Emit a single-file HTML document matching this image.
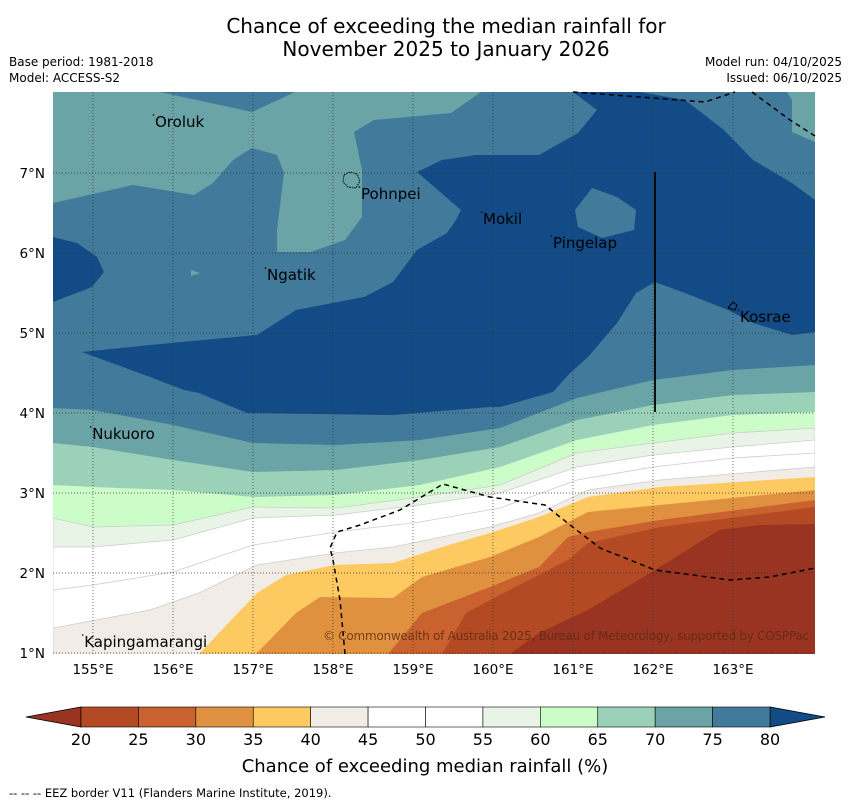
<!DOCTYPE html>
<html><head><meta charset="utf-8">
<style>
body{margin:0;background:#fff;}
svg{display:block;font-family:"DejaVu Sans","Liberation Sans",sans-serif;}
</style></head>
<body>
<svg id="chart" width="850" height="804" viewBox="0 0 850 804" xmlns="http://www.w3.org/2000/svg">
<text x="446" y="33" font-size="20" text-anchor="middle">Chance of exceeding the median rainfall for</text>
<text x="446" y="56" font-size="20" text-anchor="middle">November 2025 to January 2026</text>
<text x="9" y="66" font-size="12">Base period: 1981-2018</text>
<text x="9" y="82" font-size="12">Model: ACCESS-S2</text>
<text x="842" y="66" font-size="12" text-anchor="end">Model run: 04/10/2025</text>
<text x="842" y="82" font-size="12" text-anchor="end">Issued: 06/10/2025</text>
<defs><clipPath id="mapclip"><rect x="53" y="92" width="762" height="562"/></clipPath></defs>
<g id="map" clip-path="url(#mapclip)"></g>
<g id="overlay"></g>
<g id="axes"></g>
<g id="cbar"></g>
<text x="425" y="772" font-size="18" text-anchor="middle">Chance of exceeding median rainfall (%)</text>
<text x="9" y="797" font-size="11.5">--  --  -- EEZ border V11 (Flanders Marine Institute, 2019).</text>
</svg>
<script>
// Colour scale data
const levels = [20,25,30,35,40,45,50,55,60,65,70,75,80];
const binColors = ["#b34a24","#c9622f","#e0913f","#fdc961","#f1ede6","#ffffff","#ffffff","#e8f5e6","#ccfcc8","#9bd1b8","#6aa4a6","#417a9a"];
const underColor = "#993322";
const overColor = "#134b87";
// Axis ticks
const lonTicks = [155,156,157,158,159,160,161,162,163];
const latTicks = [1,2,3,4,5,6,7];
// Place labels
const placeNames = ["Oroluk","Pohnpei","Mokil","Pingelap","Ngatik","Kosrae","Nukuoro","Kapingamarangi"];
const placeLon = [155.775,158.35,159.875,160.75,157.175,163.0875,154.99,154.89];
const placeLat = [7.575,6.675,6.3625,6.0625,5.6625,5.1375,3.675,1.075];

const NS="http://www.w3.org/2000/svg";
const lonX = v => 93 + (v-155)*80;
const latY = v => 653 - (v-1)*80;
function mk(tag, attrs, parent){const e=document.createElementNS(NS,tag);for(const k in attrs)e.setAttribute(k,attrs[k]);parent.appendChild(e);return e;}
const map=document.getElementById('map'), ov=document.getElementById('overlay'), ax=document.getElementById('axes'), cb=document.getElementById('cbar');

let r=mk('rect',{x:53,y:92,width:762,height:562,fill:binColors[11]},map);


function poly(pts,fill,name,parent){const p=mk('polygon',{points:pts.map(q=>q.join(',')).join(' '),fill:fill},parent||map);return p;}
poly([[53,92],[160,92],[252,112],[295,92],[481,92],[451,113],[374,120],[354,132],[362,170],[362,217],[345,240],[311,252],[277,252],[277,230],[284,173],[277,155],[252,148],[233,160],[213,183],[194,195],[133,185],[102,192],[53,203]],binColors[10],'region-70-75-north');
poly([[787,92],[815,92],[815,142],[792,132],[792,100]],binColors[10],'region-70-75-northeast');
poly([[191,270],[200,273],[191,276]],binColors[10],'region-70-75-spot');
poly([[573,92],[640,92],[685,100],[724,130],[753,160],[792,183],[815,200],[815,332],[792,335],[753,323],[728,310],[685,293],[655,282],[636,293],[617,323],[588,357],[570,373],[553,392],[500,407],[490,407],[393,415],[247,413],[199,393],[184,390],[150,377],[82,352],[150,345],[257,335],[296,310],[364,297],[393,282],[417,250],[447,233],[456,220],[461,210],[417,172],[442,160],[476,155],[539,155],[578,133],[597,110]],overColor,'region-above-80');
poly([[53,237],[77,243],[97,257],[104,272],[92,287],[53,302]],overColor,'region-above-80-west');
poly([[592,188],[575,210],[578,227],[602,238],[634,230],[636,210],[617,197]],binColors[11],'region-75-80-pingelap');
const bands = [
 {c:binColors[10],n:'band-70-75',pts:[[53,408],[93,410],[173,425],[253,443],[336,445],[420,440],[500,428],[577,398],[653,380],[733,370],[815,365]]},
 {c:binColors[9],n:'band-65-70',pts:[[53,443],[93,447],[173,460],[253,472],[336,470],[420,460],[500,447],[577,420],[653,405],[733,395],[815,392]]},
 {c:binColors[8],n:'band-60-65',pts:[[53,485],[93,487],[173,490],[253,497],[336,495],[420,485],[500,467],[577,440],[653,425],[733,415],[815,412]]},
 {c:binColors[7],n:'band-55-60',pts:[[53,518],[93,527],[173,525],[253,507],[336,508],[420,497],[500,485],[577,453],[653,443],[733,433],[815,428]]},
 {c:binColors[6],n:'band-50-55',pts:[[53,547],[93,547],[173,540],[253,518],[336,515],[420,505],[500,493],[577,467],[653,455],[733,447],[815,440]]},
 {c:binColors[5],n:'band-45-50',pts:[[53,590],[93,585],[173,572],[253,545],[336,532],[420,522],[500,508],[577,480],[653,467],[733,458],[815,453]]},
 {c:binColors[4],n:'band-40-45',pts:[[53,628],[150,610],[199,593],[257,565],[335,553],[393,547],[490,527],[539,513],[588,490],[660,480],[815,467]]},
 {c:binColors[3],n:'band-35-40',pts:[[53,760],[199,654],[257,593],[286,575],[335,565],[393,563],[442,547],[490,533],[539,517],[588,497],[660,487],[815,477]]},
 {c:binColors[2],n:'band-30-35',pts:[[53,760],[240,680],[256,654],[296,613],[320,597],[393,598],[422,577],[490,557],[539,537],[588,512],[660,505],[815,490]]},
 {c:binColors[1],n:'band-25-30',pts:[[53,800],[380,660],[388,654],[422,613],[490,587],[539,567],[568,537],[588,532],[660,520],[815,500]]},
 {c:binColors[0],n:'band-20-25',pts:[[53,820],[430,670],[442,654],[466,613],[515,587],[568,560],[588,543],[660,527],[815,507]]},
 {c:underColor,n:'band-below-20',pts:[[53,820],[500,670],[510,654],[539,633],[588,610],[655,570],[719,530],[760,525],[815,524]]}
];
bands.forEach(b=>{
  const pts=b.pts.concat([[815,660],[53,660]]);
  const p=poly(pts,b.c,b.n);
  p.setAttribute('stroke', b.c==='#ffffff'||b.c==='#f1ede6'||b.c==='#e8f5e6'?'#cccccc':'none');
  p.setAttribute('stroke-width','0.8');
});
lonTicks.forEach(v=>{const l=mk('line',{x1:lonX(v),x2:lonX(v),y1:92,y2:654,stroke:'#333','stroke-width':0.7,'stroke-dasharray':'1,2'},ov);});
latTicks.forEach(v=>{const l=mk('line',{x1:53,x2:815,y1:latY(v),y2:latY(v),stroke:'#333','stroke-width':0.7,'stroke-dasharray':'1,2'},ov);});
function pl(pts,name,dash,w){const p=mk('polyline',{points:pts.map(q=>q.join(',')).join(' '),fill:'none',stroke:'#000','stroke-width':w||1.5,'stroke-dasharray':dash||'none'},ov);return p;}
pl([[573,92],[640,97],[705,102],[735,92]],'eez-border-north','5,4');
pl([[752,92],[790,120],[815,136]],'eez-border-northeast','5,4');
pl([[345,654],[340,600],[333,560],[330,548],[337,532],[360,525],[400,510],[443,484],[490,497],[545,505],[570,525],[600,548],[655,570],[730,580],[770,577],[815,568]],'eez-border-south','5,4');
pl([[655,172],[655,412]],'boundary-line-162e','none',1.8);
pl([[344,175],[350,172],[357,174],[360,181],[356,188],[348,187],[343,182],[344,175]],'pohnpei-island','1.5,1',1);
pl([[728,308],[733,302],[737,305],[735,310],[728,308]],'kosrae-island','none',1);
placeNames.forEach((n,i)=>{const t=mk('text',{x:lonX(placeLon[i]),y:latY(placeLat[i]),'font-size':15},ov);t.textContent=n;
 const d=mk('circle',{cx:lonX(placeLon[i])-1.5,cy:latY(placeLat[i])-12,r:0.8,fill:'#000'},ov);});
let cp=mk('text',{x:323,y:640,'font-size':12,fill:'#5a2a10','fill-opacity':0.8,textLength:486},ov);cp.textContent='© Commonwealth of Australia 2025, Bureau of Meteorology, supported by COSPPac';


lonTicks.forEach(v=>{const t=mk('text',{x:lonX(v),y:674,'font-size':13.5,'text-anchor':'middle'},ax);t.textContent=v+'°E';});
latTicks.forEach(v=>{const t=mk('text',{x:45,y:latY(v)+5,'font-size':13.5,'text-anchor':'end'},ax);t.textContent=v+'°N';});
const cbX=v=>81+(v-20)/60*689;
const cbT=707, cbB=727;
let tl=mk('polygon',{points:`${cbX(20)},${cbT} ${cbX(20)},${cbB} 26,${(cbT+cbB)/2}`,fill:underColor,stroke:'#000','stroke-width':0.8},cb);

let tr=mk('polygon',{points:`${cbX(80)},${cbT} ${cbX(80)},${cbB} 825,${(cbT+cbB)/2}`,fill:overColor,stroke:'#000','stroke-width':0.8},cb);

binColors.forEach((c,i)=>{const x0=cbX(levels[i]),x1=cbX(levels[i+1]);const b=mk('rect',{x:x0,y:cbT,width:x1-x0,height:cbB-cbT,fill:c,stroke:'#000','stroke-width':0.6},cb);});
levels.forEach(v=>{const t=mk('text',{x:cbX(v),y:745,'font-size':16,'text-anchor':'middle'},cb);t.textContent=v;});
</script>
</body></html>
